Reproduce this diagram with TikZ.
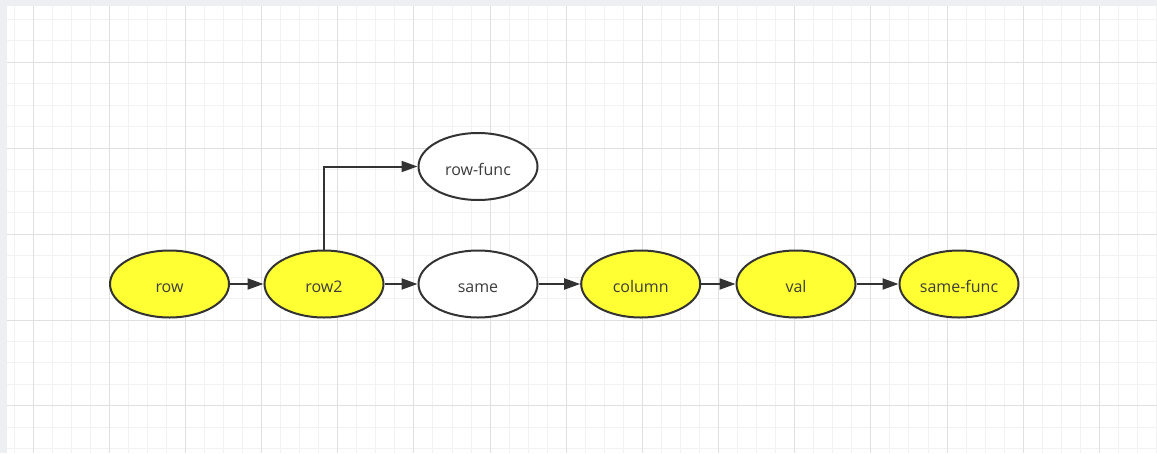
\documentclass[tikz,border=0pt]{standalone}
\usepackage{fontspec}
\setmainfont{Open Sans}
\usetikzlibrary{shapes.geometric,arrows.meta}
\definecolor{bgout}{HTML}{EEEFF2}
\definecolor{gminor}{HTML}{F2F2F2}
\definecolor{gmajor}{HTML}{E0E0E0}
\definecolor{ink}{HTML}{333333}
\definecolor{txt}{HTML}{3C3C3C}
\definecolor{hl}{HTML}{FFFF33}
\tikzset{
  oval/.style={ellipse,draw=ink,line width=2pt,minimum width=119pt,minimum height=67pt,inner sep=0pt,
    text height=17pt,text depth=0pt,font=\fontsize{16}{18}\selectfont,text=txt},
  yel/.style={oval,fill=hl},
  wht/.style={oval,fill=white},
  conn/.style={draw=ink,line width=2pt,-{Triangle[length=16pt,width=11pt]}},
}
\begin{document}
\begin{tikzpicture}[x=1pt,y=-1pt]
\useasboundingbox (0,0) rectangle (1157,453);
\fill[bgout] (0,0) rectangle (1157,453);
\fill[white] (7,6) rectangle (1157,453);
% minor grid
\foreach \i in {0,...,60} {
  \pgfmathsetmacro{\xx}{14.1+19.04*\i}
  \draw[gminor,line width=1pt] (\xx,6) -- (\xx,453);
}
\foreach \j in {0,...,21} {
  \pgfmathsetmacro{\yy}{19.3+21.48*\j}
  \draw[gminor,line width=1pt] (7,\yy) -- (1157,\yy);
}
% major grid
\foreach \i in {0,...,15} {
  \pgfmathsetmacro{\xx}{33.2+76.15*\i}
  \draw[gmajor,line width=1pt] (\xx,6) -- (\xx,453);
}
\foreach \j in {0,...,4} {
  \pgfmathsetmacro{\yy}{62.3+85.9*\j}
  \draw[gmajor,line width=1pt] (7,\yy) -- (1157,\yy);
}
% nodes
\node[yel] (row) at (169.5,284) {row};
\node[yel] (row2) at (324,284) {row2};
\node[wht] (same) at (478,284) {same};
\node[yel] (column) at (640.7,284) {column};
\node[yel] (val) at (796,284) {val};
\node[yel] (samefunc) at (959,284) {same-func};
\node[wht] (rowfunc) at (478,166.5) {row-func};
% connectors
\draw[conn] (row) -- (row2);
\draw[conn] (row2) -- (same);
\draw[conn] (same) -- (column);
\draw[conn] (column) -- (val);
\draw[conn] (val) -- (samefunc);
\draw[conn] (row2.north) |- (rowfunc.west);
\end{tikzpicture}
\end{document}
